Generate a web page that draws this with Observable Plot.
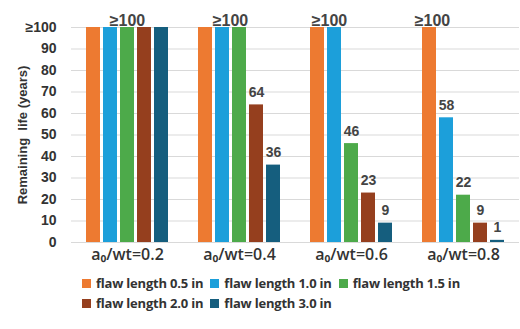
<!DOCTYPE html>
<html><head><meta charset="utf-8">
<script src="https://cdn.jsdelivr.net/npm/d3@7"></script>
<script src="https://cdn.jsdelivr.net/npm/@observablehq/plot@0.6"></script>
<style>
body{margin:0;background:#fff;font-family:"Liberation Sans",Arial,sans-serif;}
#legend{display:flex;flex-wrap:wrap;width:400px;margin:3px 0 0 82px;font-family:"Open Sans",sans-serif;font-weight:700;font-size:13px;color:#333;letter-spacing:-0.2px;}
#legend .item{display:inline-flex;align-items:center;height:20px;margin-right:7px;white-space:nowrap;}
#legend .sw{display:inline-block;width:9px;height:9px;margin-right:5px;}
</style></head><body><div id="chart"></div><script>
const groups = ["a₀/wt=0.2","a₀/wt=0.4","a₀/wt=0.6","a₀/wt=0.8"];
const series = ["flaw length 0.5 in","flaw length 1.0 in","flaw length 1.5 in","flaw length 2.0 in","flaw length 3.0 in"];
const colors = ["#ED7A31","#1C9FDA","#4DAA4A","#953F1E","#155E7E"];
const values = [
  [100,100,100,100,100],
  [100,100,100,64,36],
  [100,100,46,23,9],
  [100,58,22,9,1]
];
const yTicks = [0,10,20,30,40,50,60,70,80,90,100];
const yLabel = "Remaining\u00a0 life (years)";
const topLabelText = "≥100";
const topLabelSeries = ["flaw length 1.5 in","flaw length 1.0 in","flaw length 1.0 in","flaw length 0.5 in"];
const topLabelDx = [0,8,-5,3];

const rows = groups.flatMap((g,i)=>series.map((s,j)=>({group:g, series:s, value:values[i][j]})));
const firstFacet = () => groups[0];

const plot = Plot.plot({
  width: 520, height: 270,
  marginLeft: 71, marginRight: 0, marginTop: 27, marginBottom: 28,
  style: {fontFamily: '"Liberation Sans",Arial,sans-serif', color: "#333", background: "#fff", overflow: "visible"},
  fx: {domain: groups, paddingInner: 0.265, paddingOuter: 0.124, label: null},
  x: {domain: series, paddingInner: 0.19, paddingOuter: 0, axis: null},
  y: {domain: [0,100], axis: null},
  color: {domain: series, range: colors},
  marks: [
    Plot.ruleY(yTicks, {stroke: "#d9d9d9", strokeWidth: 1, insetLeft: -15, insetRight: -15}),
    Plot.barY(rows, {fx: "group", x: "series", y: "value", fill: "series"}),
    Plot.text(rows.filter(d=>d.value<100), {fx: "group", x: "series", y: "value", text: d=>String(d.value), lineAnchor: "bottom", dy: -8, fontSize: 14, fontWeight: "bold", fill: "#444"}),
    ...groups.map((g,i)=>Plot.text([{group:g, series:topLabelSeries[i], value:100}], {fx: "group", x: "series", y: "value", text: ()=>topLabelText, lineAnchor: "bottom", dy: -2, dx: topLabelDx[i], fontSize: 16, fontWeight: "bold", fill: "#444"})),
    Plot.text(yTicks, {fx: firstFacet, y: d=>d, text: d=>d===100?topLabelText:String(d), frameAnchor: "left", textAnchor: "end", dx: -30, fontSize: 14, fontWeight: "bold", fill: "#333"}),
    Plot.text([yLabel], {fx: firstFacet, text: d=>d, frameAnchor: "left", textAnchor: "middle", rotate: -90, dx: -64, fontSize: 13, fontWeight: "bold", fill: "#333"}),
    Plot.axisFx({anchor: "bottom", tickSize: 0, tickPadding: 6, fontSize: 16, fontFamily: '"Open Sans",sans-serif', fontWeight: 600, label: null})
  ]
});
document.getElementById("chart").appendChild(plot);
const lg = document.createElement("div");
lg.id = "legend";
series.forEach((s,i)=>{
  const it = document.createElement("span"); it.className="item";
  const sw = document.createElement("span"); sw.className="sw"; sw.style.background=colors[i];
  it.appendChild(sw); it.appendChild(document.createTextNode(s));
  lg.appendChild(it);
});
document.getElementById("chart").appendChild(lg);
</script></body></html>
